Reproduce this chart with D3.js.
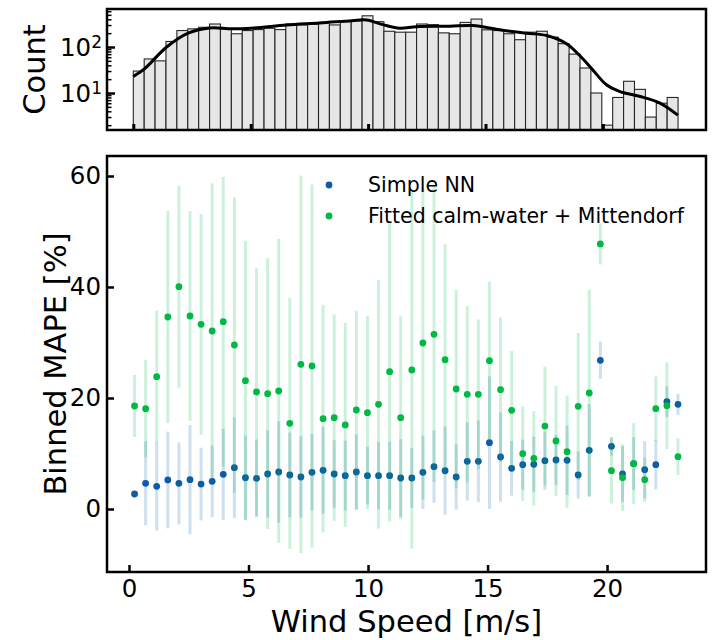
<!DOCTYPE html>
<html>
<head>
<meta charset="utf-8">
<script src="https://cdn.jsdelivr.net/npm/d3@7"></script>
<style>
  body { margin: 0; background: #fff; }
  svg text { font-family: "DejaVu Sans", sans-serif; fill: #000; }
</style>
</head>
<body>
<div id="chart"></div>
<script>
// Bin centres (m/s), same bins for histogram and MAPE
const windSpeed = [0.232, 0.696, 1.160, 1.624, 2.088, 2.552, 3.016, 3.480, 3.944, 4.408,
    4.872, 5.336, 5.800, 6.264, 6.728, 7.192, 7.656, 8.120, 8.584, 9.048,
    9.512, 9.976, 10.440, 10.904, 11.368, 11.832, 12.296, 12.760, 13.224, 13.688,
    14.152, 14.616, 15.080, 15.544, 16.008, 16.472, 16.936, 17.400, 17.864, 18.328,
    18.792, 19.256, 19.720, 20.184, 20.648, 21.112, 21.576, 22.040, 22.504, 22.968];
const binWidth = 0.464;

// Samples per bin (top panel)
const histCounts = [30, 55, 50, 132, 228, 248, 268, 316, 248, 194,
    228, 239, 255, 239, 316, 302, 316, 343, 302, 373,
    373, 477, 355, 220, 210, 210, 316, 306, 203, 194,
    343, 405, 236, 228, 194, 144, 210, 220, 164, 118,
    70, 35, 10, 2, 8, 18, 12, 3, 6, 8];

// KDE curve
const kdeSpeed = [0, 0.5, 1.42, 2.36, 3.27, 4.2, 5.14, 6.53, 7.95, 9.31, 9.93, 10.63, 11.35,
    12.06, 13.48, 14.46, 15.6, 16.74, 17.6, 18.45, 19.0, 19.57, 20.15, 20.7, 21.56, 22.41, 23.19];
const kdeCount = [22.8, 34.4, 100, 203, 260, 248, 260, 302, 333, 373, 386, 306, 255,
    277, 282, 292, 236, 199, 178, 118, 66, 31.7, 15.1, 10.9, 8.5, 6.1, 3.3];

// Binned MAPE [%] and spread, Simple NN
const nnMape = [2.70, 4.62, 4.08, 5.23, 4.62, 5.29, 4.50, 4.98, 6.25, 7.45,
    5.65, 5.53, 6.31, 6.67, 6.13, 5.77, 6.61, 6.97, 6.31, 6.01,
    6.67, 6.01, 6.01, 6.01, 5.59, 5.59, 6.61, 7.63, 6.91, 5.77,
    8.59, 8.59, 11.95, 9.37, 7.33, 7.99, 8.05, 8.71, 8.83, 8.77,
    6.13, 10.57, 26.79, 11.29, 6.31, 8.17, 7.09, 7.99, 19.34, 18.86];
const nnStd = [0.5, 7.57, 7.96, 8.71, 7.39, 9.85, 6.55, 6.46, 8.2, 9.1,
    7.57, 7.0, 7.87, 9.13, 7.63, 7.36, 6.9, 7.8, 6.1, 6.3,
    6.8, 5.2, 6.07, 6.13, 7.0, 5.4, 6.6, 6.5, 7.96, 5.9,
    7.06, 7.36, 11.95, 8.05, 4.92, 4.53, 4.95, 5.26, 4.5, 6.25,
    4.26, 8.35, 3.36, 1.7, 5.0, 4.74, 5.17, 4.44, 2.76, 1.9];

// Binned MAPE [%] and spread, fitted calm-water + Mittendorf
const fitMape = [18.56, 18.08, 23.84, 34.59, 40.06, 34.77, 33.27, 32.07, 33.75, 29.55,
    23.12, 21.08, 20.78, 21.26, 15.44, 26.07, 25.77, 16.28, 16.46, 15.14,
    17.84, 17.36, 18.86, 24.74, 16.46, 25.05, 29.91, 31.47, 26.91, 21.62,
    20.66, 20.66, 26.73, 21.50, 17.78, 9.97, 9.13, 14.95, 12.25, 10.33,
    18.50, 20.90, 47.75, 6.91, 5.65, 8.17, 5.29, 18.08, 18.62, 9.43];
const fitStd = [5.59, 8.77, 11.9, 19.1, 18.2, 18.9, 19.9, 26.6, 26.1, 26.6,
    25.2, 22.3, 24.4, 27.4, 22.6, 34.0, 32.7, 20.5, 18.6, 18.4,
    17.9, 17.4, 22.4, 27.0, 18.3, 32.2, 28.2, 26.6, 20.8, 17.9,
    15.9, 13.5, 14.2, 13.0, 10.7, 8.5, 8.5, 10.7, 9.9, 10.1,
    13.2, 18.6, 3.7, 5.9, 6.0, 7.3, 4.0, 5.8, 7.8, 3.3];

const seriesNames = ["Simple NN", "Fitted calm-water + Mittendorf"];
const seriesColors = ["#0C5DA5", "#00B945"];

const xTickValues = [0, 5, 10, 15, 20];
const yTickValues = [0, 20, 40, 60];
const countTickValues = [10, 100];
const countMinorTicks = [2, 3, 4, 5, 6, 7, 8, 9, 20, 30, 40, 50, 60, 70, 80, 90, 200, 300, 400, 500, 600];

// Panel boxes (pixels)
const topBox = {left: 107, right: 706, top: 9, bottom: 130};
const mainBox = {left: 107, right: 706, top: 156, bottom: 572};

const svg = d3.select("#chart").append("svg")
    .attr("width", 713)
    .attr("height", 640);

// Scales
const xTop = d3.scaleLinear().domain([-1.12, 24.39]).range([topBox.left, topBox.right]);
const yCount = d3.scaleLog().domain([1.57, 670]).range([topBox.bottom, topBox.top]);
const x = d3.scaleLinear().domain([-0.92, 24.14]).range([mainBox.left, mainBox.right]);
const y = d3.scaleLinear().domain([-11.35, 63.6]).range([mainBox.bottom, mainBox.top]);

const tickFont = "24.5px";
const labelFont = "30.5px";

// clip paths
const defs = svg.append("defs");
defs.append("clipPath").attr("id", "clipTop").append("rect")
    .attr("x", topBox.left).attr("y", topBox.top)
    .attr("width", topBox.right - topBox.left).attr("height", topBox.bottom - topBox.top);
defs.append("clipPath").attr("id", "clipMain").append("rect")
    .attr("x", mainBox.left).attr("y", mainBox.top)
    .attr("width", mainBox.right - mainBox.left).attr("height", mainBox.bottom - mainBox.top);

// ---------- Top panel: histogram + kde ----------
const gTop = svg.append("g").attr("clip-path", "url(#clipTop)");

gTop.selectAll(".bar")
    .data(histCounts)
    .enter()
    .append("rect")
    .attr("class", "bar")
    .attr("x", (d, i) => xTop(windSpeed[i] - binWidth / 2))
    .attr("width", xTop(binWidth) - xTop(0))
    .attr("y", d => yCount(d))
    .attr("height", d => topBox.bottom + 5 - yCount(d))
    .attr("fill", "#e6e6e6")
    .attr("stroke", "#262626")
    .attr("stroke-width", 1.1);

const kdeLine = d3.line()
    .x((d, i) => xTop(kdeSpeed[i]))
    .y(d => yCount(d))
    .curve(d3.curveCatmullRom);

gTop.append("path")
    .datum(kdeCount)
    .attr("d", kdeLine)
    .attr("fill", "none")
    .attr("stroke", "#000")
    .attr("stroke-width", 3);

// top x axis: inward ticks, no labels
svg.append("g")
    .attr("transform", `translate(0, ${topBox.bottom})`)
    .call(d3.axisBottom(xTop).tickValues(xTickValues).tickSize(-6).tickSizeOuter(0).tickFormat(""))
    .call(g => g.select(".domain").remove())
    .call(g => g.selectAll(".tick line").attr("stroke-width", 3));

// log y axis, major + minor
svg.append("g")
    .attr("transform", `translate(${topBox.left}, 0)`)
    .call(d3.axisLeft(yCount).tickValues(countTickValues).tickSize(-8).tickSizeOuter(0).tickFormat(""))
    .call(g => g.select(".domain").remove())
    .call(g => g.selectAll(".tick line").attr("stroke-width", 2.5));

svg.append("g")
    .attr("transform", `translate(${topBox.left}, 0)`)
    .call(d3.axisLeft(yCount).tickValues(countMinorTicks).tickSize(-4.5).tickSizeOuter(0).tickFormat(""))
    .call(g => g.select(".domain").remove())
    .call(g => g.selectAll(".tick line").attr("stroke-width", 1.5));

// log tick labels as 10^n
const powLabels = svg.selectAll(".powLabel")
    .data(countTickValues)
    .enter()
    .append("text")
    .attr("class", "powLabel")
    .attr("x", topBox.left - 5)
    .attr("y", d => yCount(d) + 9)
    .attr("text-anchor", "end")
    .style("font-size", tickFont);
powLabels.append("tspan").text("10");
powLabels.append("tspan")
    .attr("dy", "-0.45em")
    .style("font-size", "17px")
    .text(d => Math.round(Math.log10(d)));

svg.append("rect")
    .attr("x", topBox.left).attr("y", topBox.top)
    .attr("width", topBox.right - topBox.left).attr("height", topBox.bottom - topBox.top)
    .attr("fill", "none").attr("stroke", "#000").attr("stroke-width", 2.5);

svg.append("g")
    .attr("transform", `translate(34, ${(topBox.top + topBox.bottom) / 2}) rotate(-90)`)
    .append("text")
    .attr("text-anchor", "middle")
    .attr("dy", "0.36em")
    .style("font-size", labelFont)
    .text("Count");

// ---------- Main panel: binned MAPE ----------
const series = [
    {name: seriesNames[0], color: seriesColors[0], mean: nnMape, err: nnStd},
    {name: seriesNames[1], color: seriesColors[1], mean: fitMape, err: fitStd}
];

const gMain = svg.append("g").attr("clip-path", "url(#clipMain)");

series.forEach(s => {
    let g = gMain.append("g");

    // error bars
    g.selectAll(".err")
        .data(s.mean)
        .enter()
        .append("line")
        .attr("class", "err")
        .attr("x1", (d, i) => x(windSpeed[i]))
        .attr("x2", (d, i) => x(windSpeed[i]))
        .attr("y1", (d, i) => y(d - s.err[i]))
        .attr("y2", (d, i) => y(d + s.err[i]))
        .attr("stroke", s.color)
        .attr("stroke-opacity", 0.2)
        .attr("stroke-width", 3);

    // points
    g.selectAll(".pt")
        .data(s.mean)
        .enter()
        .append("circle")
        .attr("class", "pt")
        .attr("cx", (d, i) => x(windSpeed[i]))
        .attr("cy", d => y(d))
        .attr("r", 3.4)
        .attr("fill", s.color);
});

// axes with inward ticks
svg.append("g")
    .attr("transform", `translate(0, ${mainBox.bottom})`)
    .call(d3.axisBottom(x).tickValues(xTickValues).tickSize(-7).tickSizeOuter(0).tickPadding(8))
    .call(g => g.select(".domain").remove())
    .call(g => g.selectAll(".tick line").attr("stroke-width", 2.5))
    .call(g => g.selectAll(".tick text").style("font-size", tickFont).style("font-family", "DejaVu Sans"));

svg.append("g")
    .attr("transform", `translate(${mainBox.left}, 0)`)
    .call(d3.axisLeft(y).tickValues(yTickValues).tickSize(-7).tickSizeOuter(0).tickPadding(6))
    .call(g => g.select(".domain").remove())
    .call(g => g.selectAll(".tick line").attr("stroke-width", 2.5))
    .call(g => g.selectAll(".tick text").style("font-size", tickFont).style("font-family", "DejaVu Sans"));

svg.append("rect")
    .attr("x", mainBox.left).attr("y", mainBox.top)
    .attr("width", mainBox.right - mainBox.left).attr("height", mainBox.bottom - mainBox.top)
    .attr("fill", "none").attr("stroke", "#000").attr("stroke-width", 2.5);

// Legend
const legend = svg.append("g").attr("transform", "translate(329, 185)");
series.forEach((s, i) => {
    legend.append("circle")
        .attr("cx", 0).attr("cy", i * 31)
        .attr("r", 3.4)
        .attr("fill", s.color);
    legend.append("text")
        .attr("x", 39).attr("y", i * 31)
        .attr("dy", "0.36em")
        .style("font-size", "20.5px")
        .text(s.name);
});

// Axis labels
svg.append("text")
    .attr("x", (mainBox.left + mainBox.right) / 2)
    .attr("y", 632)
    .attr("text-anchor", "middle")
    .style("font-size", labelFont)
    .text("Wind Speed [m/s]");

svg.append("g")
    .attr("transform", `translate(55, ${(mainBox.top + mainBox.bottom) / 2}) rotate(-90)`)
    .append("text")
    .attr("text-anchor", "middle")
    .attr("dy", "0.36em")
    .style("font-size", labelFont)
    .text("Binned MAPE [%]");
</script>
</body>
</html>
